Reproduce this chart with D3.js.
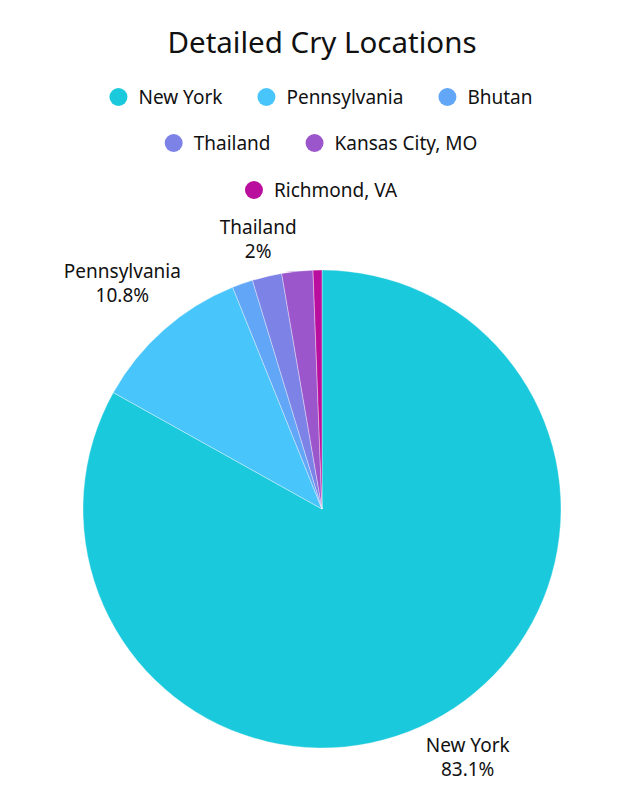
<!DOCTYPE html>
<html><head><meta charset="utf-8">
<script src="https://cdn.jsdelivr.net/npm/d3@7"></script>
<style>html,body{margin:0;padding:0;background:#fff;}svg{display:block;font-family:"Noto Sans",sans-serif;}</style>
</head><body>
<svg id="c" width="640" height="797"></svg>
<script>
const title = "Detailed Cry Locations";
const categories = ["New York","Pennsylvania","Bhutan","Thailand","Kansas City, MO","Richmond, VA"];
const values = [83.1, 10.8, 1.4, 2.0, 2.1, 0.6];
const colors = ["#1BC9DC","#48C5FA","#62A6F7","#7C82E6","#9C56CB","#BA0F9E"];
const labelled = ["New York","Pennsylvania","Thailand"];
const legendRows = [["New York","Pennsylvania","Bhutan"],["Thailand","Kansas City, MO"],["Richmond, VA"]];

const svg = d3.select("#c");
const W = 640, cx = 322, cy = 509, R = 239;
const color = d3.scaleOrdinal().domain(categories).range(colors);

svg.append("text").attr("x", cx).attr("y", 53).attr("text-anchor","middle")
  .attr("font-size", 29.5).attr("fill","#111").text(title);

// legend
const rowY = [97, 143, 190];
legendRows.forEach((row, ri) => {
  const g = svg.append("g");
  let x = 0;
  row.forEach((name, i) => {
    g.append("circle").attr("cx", x + 9).attr("cy", 0).attr("r", 9).attr("fill", color(name));
    const t = g.append("text").attr("x", x + 29).attr("y", 7).attr("font-size", 19).attr("fill","#111").text(name);
    const w = t.node().getComputedTextLength();
    x += 29 + w + (i < row.length - 1 ? 35 : 0);
  });
  g.attr("transform", `translate(${cx - x/2 - 1},${rowY[ri]})`);
});

const data = categories.map((c,i)=>({name:c, value:values[i]}));
const pie = d3.pie().value(d=>d.value).sort(null);
const arc = d3.arc().innerRadius(0).outerRadius(R);
const arcs = pie(data);
const pg = svg.append("g").attr("transform", `translate(${cx},${cy})`);
pg.selectAll("path").data(arcs).join("path")
  .attr("d", arc).attr("fill", d=>color(d.data.name))
  .attr("stroke","#fff").attr("stroke-width",0.6).attr("stroke-opacity",0.6);

// labels
const gap = 7;
arcs.filter(d=>labelled.includes(d.data.name)).forEach(d => {
  const a = (d.startAngle + d.endAngle)/2;
  const ux = Math.sin(a), uy = -Math.cos(a);
  const lg = pg.append("g");
  lg.append("text").attr("text-anchor","middle").attr("font-size",19).attr("fill","#111")
    .attr("y", -4).text(d.data.name);
  lg.append("text").attr("text-anchor","middle").attr("font-size",19).attr("fill","#111")
    .attr("y", 20).text(d3.format("~g")(d.data.value) + "%");
  const bb = lg.node().getBBox();
  let lo = R, hi = R + 200;
  for (let k=0;k<40;k++){
    const m = (lo+hi)/2;
    const bx0 = m*ux - bb.width/2, bx1 = bx0 + bb.width;
    const by0 = m*uy - bb.height/2, by1 = by0 + bb.height;
    const nx = Math.max(bx0, Math.min(0, bx1)), ny = Math.max(by0, Math.min(0, by1));
    const dist = Math.hypot(nx, ny);
    if (dist < R + gap) lo = m; else hi = m;
  }
  const m = (lo+hi)/2;
  lg.attr("transform", `translate(${m*ux - (bb.x + bb.width/2)},${m*uy - (bb.y + bb.height/2)})`);
});
</script>
</body></html>
